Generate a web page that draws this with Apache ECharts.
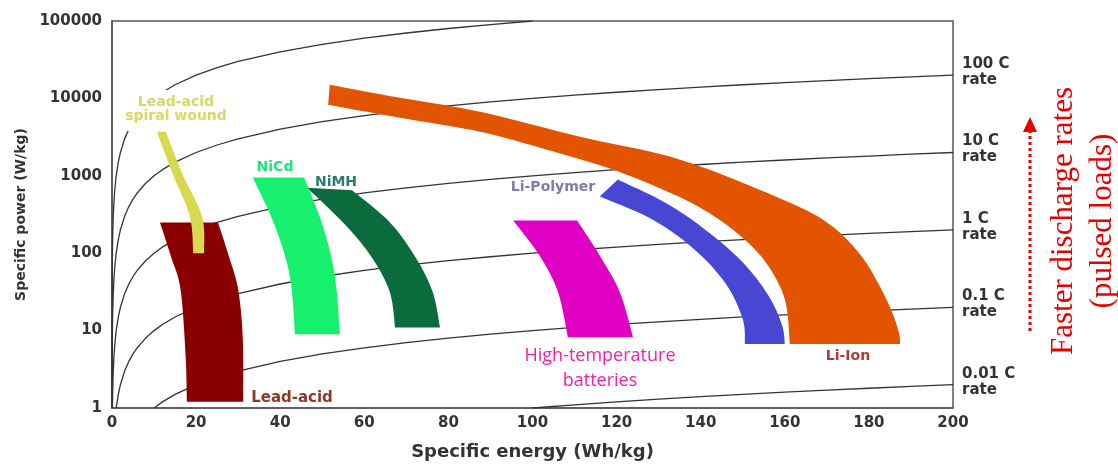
<!DOCTYPE html>
<html>
<head>
<meta charset="utf-8">
<script src="https://cdn.jsdelivr.net/npm/echarts@6/dist/echarts.min.js"></script>
<style>
html,body{margin:0;padding:0;background:#fff;}
#chart{width:1118px;height:466px;}
</style>
</head>
<body>
<div id="chart"></div>
<script>
// ---- Axis ticks ----
const energyTicks = [0, 20, 40, 60, 80, 100, 120, 140, 160, 180, 200];
const powerTicks = [1, 10, 100, 1000, 10000, 100000];

// ---- C-rate reference lines (P = rate * E) ----
const rateValues = [0.01, 0.1, 1, 10, 100, 1000];
const rateLabels = ['0.01 C\nrate', '0.1 C\nrate', '1 C\nrate', '10 C\nrate', '100 C\nrate', ''];
const energySamples = [0.001, 0.0015, 0.002, 0.003, 0.005, 0.007, 0.01, 0.015, 0.02, 0.03, 0.05, 0.07,
  0.1, 0.15, 0.2, 0.3, 0.5, 0.7, 1, 1.5, 2, 3, 4, 5, 6, 8, 10, 12, 15, 20, 25, 30, 40, 50, 60, 70,
  80, 90, 100, 110, 120, 130, 140, 150, 160, 170, 180, 190, 200];

// ---- Battery regions: two edges each, [specific energy Wh/kg, specific power W/kg], top to bottom ----
const leadAcidOuter = [[25.2, 250], [27.8, 91], [30.0, 34], [31.1, 8], [31.2, 1.2]];
const leadAcidInner = [[11.4, 250], [14.0, 91], [16.3, 34], [17.5, 4.7], [17.8, 1.2]];
const spiralOuter = [[12.8, 3700], [16.6, 1100], [21.4, 300], [21.9, 100]];
const spiralInner = [[10.7, 3700], [14.3, 1100], [18.5, 300], [19.3, 100]];
const niMHOuter = [[57.1, 650], [66.1, 250], [72.5, 83], [76.3, 31], [78.0, 11]];
const niMHInner = [[46.4, 700], [55.9, 220], [62.1, 83], [66.1, 31], [67.3, 11]];
const niCdOuter = [[45.7, 950], [50.2, 220], [53.0, 50], [54.2, 9]];
const niCdInner = [[33.5, 950], [38.8, 220], [42.3, 50], [43.5, 9]];
const highTempOuter = [[110.6, 265], [116.1, 91], [120.8, 31], [123.9, 8.2]];
const highTempInner = [[95.4, 265], [101.8, 91], [106.1, 31], [108.4, 8.2]];
const liPolymerOuter = [[120.3, 894], [131.5, 452], [141.0, 203], [149.8, 78], [156.0, 29], [159.3, 12], [160.0, 6.7]];
const liPolymerInner = [[116.0, 540], [128.5, 273], [138.5, 112], [146.0, 40], [150.0, 14], [150.5, 6.7]];
const liIonOuter = [[51.8, 14970], [68.5, 10180], [87.5, 6720], [111.3, 3200], [135.1, 1618],
  [160.0, 480], [170.7, 235], [177.9, 96.5], [182.6, 37.3], [185.7, 16.3], [187.2, 9.0], [187.4, 6.7]];
const liIonInner = [[51.4, 8270], [68.5, 5623], [87.5, 3715], [103.4, 2177], [119.1, 1202],
  [131.0, 664], [139.8, 389], [148.2, 191], [155.3, 78.4], [160.0, 25.4], [161.2, 6.7]];

const regions = [
  { name: 'Lead-acid', outer: leadAcidOuter, inner: leadAcidInner, color: '#8a0000' },
  { name: 'Lead-acid spiral wound', outer: spiralOuter, inner: spiralInner, color: '#d9d950' },
  { name: 'NiMH', outer: niMHOuter, inner: niMHInner, color: '#0b6b3c' },
  { name: 'NiCd', outer: niCdOuter, inner: niCdInner, color: '#16f06c' },
  { name: 'High-temperature batteries', outer: highTempOuter, inner: highTempInner, color: '#e000c4' },
  { name: 'Li-Polymer', outer: liPolymerOuter, inner: liPolymerInner, color: '#4747d4' },
  { name: 'Li-Ion', outer: liIonOuter, inner: liIonInner, color: '#e25400' }
];

// Catmull-Rom smoothing of an edge (in pixel space) for rendering
function smoothEdge(pts) {
  const out = [pts[0]];
  for (let i = 0; i < pts.length - 1; i++) {
    const p0 = pts[i - 1] || pts[i], p1 = pts[i], p2 = pts[i + 1], p3 = pts[i + 2] || pts[i + 1];
    const c1 = [p1[0] + (p2[0] - p0[0]) / 6, p1[1] + (p2[1] - p0[1]) / 6];
    const c2 = [p2[0] - (p3[0] - p1[0]) / 6, p2[1] - (p3[1] - p1[1]) / 6];
    for (let s = 1; s <= 10; s++) {
      const t = s / 10, u = 1 - t;
      out.push([
        u * u * u * p1[0] + 3 * u * u * t * c1[0] + 3 * u * t * t * c2[0] + t * t * t * p2[0],
        u * u * u * p1[1] + 3 * u * u * t * c1[1] + 3 * u * t * t * c2[1] + t * t * t * p2[1]
      ]);
    }
  }
  return out;
}

const chart = echarts.init(document.getElementById('chart'));
const FONT = 'DejaVu Sans';

const rateSeries = rateValues.map((rate, i) => {
  const data = [];
  const e0 = 1 / rate;
  data.push([e0, 1]);
  energySamples.forEach(e => {
    const p = rate * e;
    if (e > e0 && p <= 100000 && e <= 200) data.push([e, p]);
  });
  return {
    type: 'line', name: rateLabels[i] || 'rate', data: data, showSymbol: false, silent: true,
    lineStyle: { color: '#333', width: 1.3 }, z: 1, clip: true,
    endLabel: {
      show: !!rateLabels[i], formatter: rateLabels[i], color: '#333', fontFamily: FONT,
      fontWeight: 'bold', fontSize: 15, lineHeight: 16, distance: 9, offset: [0, -3], align: 'left'
    }
  };
});

const regionSeries = regions.map((r, k) => ({
  type: 'custom', name: r.name, data: r.outer.concat(r.inner), silent: true, z: 3 + k,
  encode: { x: 0, y: 1 },
  renderItem: function (params, api) {
    if (params.dataIndex !== 0) return;
    const a = smoothEdge(r.outer.map(v => api.coord(v)));
    const b = smoothEdge(r.inner.map(v => api.coord(v))).reverse();
    return { type: 'polygon', shape: { points: a.concat(b) }, style: { fill: r.color } };
  }
}));

const txt = (x, y, text, fill, size, opts) => ({
  type: 'text', x: x, y: y, z: 100,
  style: Object.assign({ text: text, fill: fill, font: 'bold ' + size + 'px "DejaVu Sans"',
    textAlign: 'center', textVerticalAlign: 'middle' }, opts || {})
});

chart.setOption({
  animation: false,
  grid: { left: 112, right: 165, top: 21, bottom: 57, show: true, borderColor: '#555', borderWidth: 1.5 },
  xAxis: {
    type: 'value', min: 0, max: 200, interval: 20,
    name: 'Specific energy (Wh/kg)', nameLocation: 'middle', nameGap: 35,
    nameTextStyle: { fontFamily: FONT, fontWeight: 'bold', fontSize: 18, color: '#333' },
    axisLine: { show: true, lineStyle: { color: '#555', width: 1.5 } },
    axisTick: { show: false }, splitLine: { show: false },
    axisLabel: { fontFamily: FONT, fontWeight: 'bold', fontSize: 15, color: '#333', margin: 8,
      formatter: v => energyTicks.includes(v) ? String(v) : '' }
  },
  yAxis: {
    type: 'log', logBase: 10, min: 1, max: 100000,
    name: 'Specific power (W/kg)', nameLocation: 'middle', nameGap: 80,
    nameTextStyle: { fontFamily: FONT, fontWeight: 'bold', fontSize: 14, color: '#333' },
    axisLine: { show: true, lineStyle: { color: '#555', width: 1.5 } },
    axisTick: { show: false }, splitLine: { show: false },
    axisLabel: { fontFamily: FONT, fontWeight: 'bold', fontSize: 15, color: '#333', margin: 10,
      formatter: v => powerTicks.includes(Math.round(v)) ? String(Math.round(v)) : '' }
  },
  series: rateSeries.concat(regionSeries),
  graphic: [
    { type: 'rect', z: 2, shape: { x: 119, y: 90, width: 116, height: 41 }, style: { fill: '#fff' } },
    txt(176, 109, 'Lead-acid\nspiral wound', '#d8d866', 14, { lineHeight: 14 }),
    txt(275, 167, 'NiCd', '#22e084', 14, {}),
    txt(336, 182, 'NiMH', '#2c7a6c', 14, {}),
    txt(553, 187, 'Li-Polymer', '#7c7cb0', 14, {}),
    txt(848, 356, 'Li-Ion', '#b03a3a', 14, {}),
    txt(292, 398, 'Lead-acid', '#8b3a2a', 15, {}),
    { type: 'text', x: 600, y: 368, z: 100,
      style: { text: 'High-temperature\nbatteries', fill: '#f020a8', font: '18px "Open Sans"',
        textAlign: 'center', textVerticalAlign: 'middle', lineHeight: 25 } },
    { type: 'text', x: 1064, y: 221, rotation: Math.PI / 2, z: 100,
      style: { text: 'Faster discharge rates', fill: '#e60000', font: '31px "Liberation Serif"',
        textAlign: 'center', textVerticalAlign: 'middle' } },
    { type: 'text', x: 1103, y: 221, rotation: Math.PI / 2, z: 100,
      style: { text: '(pulsed loads)', fill: '#e60000', font: '31px "Liberation Serif"',
        textAlign: 'center', textVerticalAlign: 'middle' } },
    { type: 'line', z: 100, shape: { x1: 1030, y1: 331, x2: 1030, y2: 131 },
      style: { stroke: '#e60000', lineWidth: 3, lineDash: [3, 3] } },
    { type: 'polygon', z: 100, shape: { points: [[1023, 132], [1037, 132], [1030, 117]] },
      style: { fill: '#e60000' } }
  ]
});
</script>
</body>
</html>
